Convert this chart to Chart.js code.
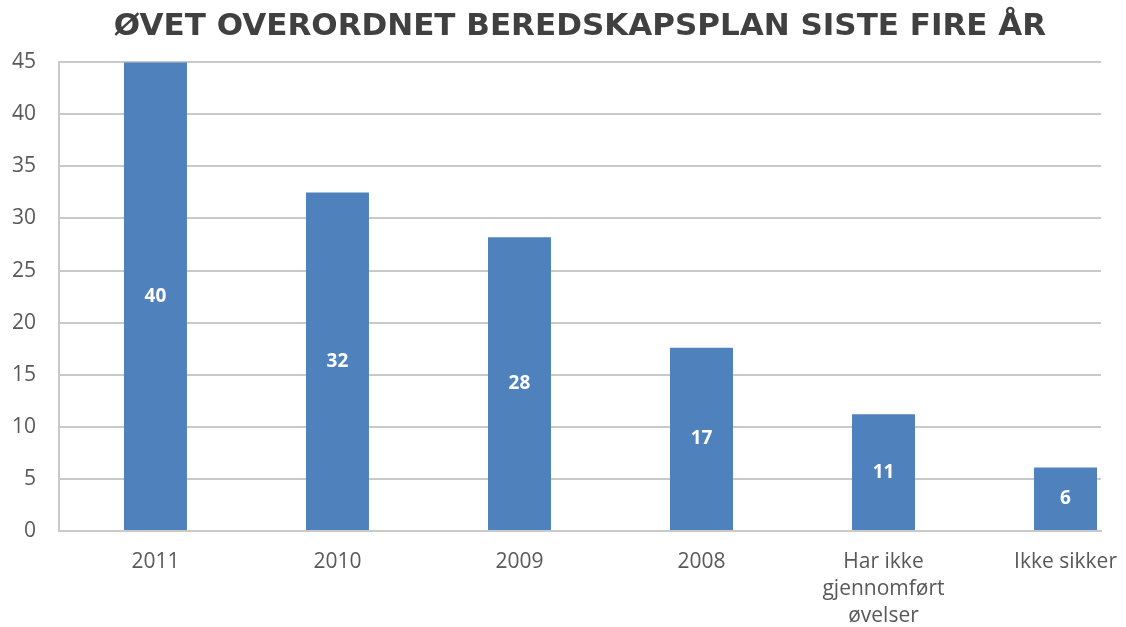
<!DOCTYPE html>
<html>
<head>
<meta charset="utf-8">
<script src="https://cdn.jsdelivr.net/npm/chart.js@4"></script>
<style>
  html, body { margin: 0; padding: 0; background: #fff; overflow: hidden; }
  #wrap { width: 1126px; height: 627px; }
</style>
</head>
<body>
<div id="wrap"><canvas id="myChart"></canvas></div>
<script>
// data
const categories = ['2011', '2010', '2009', '2008', ['Har ikke', 'gjennomført', 'øvelser'], 'Ikke sikker'];
const barValues = [45, 32.5, 28.2, 17.6, 11.2, 6.1];   // bar heights as drawn
const labelValues = [40, 32, 28, 17, 11, 6];           // numbers printed in the bars
const yTicks = [0, 5, 10, 15, 20, 25, 30, 35, 40, 45];

const gridColor = '#c9c9c9';
const textColor = '#595959';

// labels in the middle of each bar
const barLabels = {
    id: 'barLabels',
    afterDatasetsDraw(chart) {
        const c = chart.ctx;
        const meta = chart.getDatasetMeta(0);
        c.save();
        c.fillStyle = '#ffffff';
        c.font = 'bold 19px "Open Sans"';
        c.textAlign = 'center';
        c.textBaseline = 'middle';
        meta.data.forEach((bar, i) => {
            c.fillText(String(labelValues[i]), bar.x, (bar.y + bar.base) / 2);
        });
        c.restore();
    }
};

const ctx = document.getElementById('myChart').getContext('2d');
const myChart = new Chart(ctx, {
    type: 'bar',
    data: {
        datasets: [{
            data: barValues.map((v, i) => ({ x: i, y: v })),
            backgroundColor: '#4F81BD',
            categoryPercentage: 1,
            barPercentage: 0.346
        }]
    },
    options: {
        responsive: true,
        maintainAspectRatio: false,
        animation: false,
        layout: { padding: { left: 0, right: 25, top: 0, bottom: 0 } },
        plugins: {
            legend: { display: false },
            tooltip: { enabled: false },
            title: {
                display: true,
                text: 'ØVET OVERORDNET BEREDSKAPSPLAN SISTE FIRE ÅR',
                color: '#404040',
                fullSize: false,
                font: { family: '"DejaVu Sans"', size: 31, weight: 'bold' },
                padding: { top: 8, bottom: 17 }
            }
        },
        scales: {
            x: {
                type: 'linear',
                offset: false,
                min: -0.53,
                max: 5.195,
                grid: { display: false, drawTicks: false },
                border: { display: true, color: gridColor, width: 2 },
                afterBuildTicks: s => { s.ticks = categories.map((c, i) => ({ value: i })); },
                afterFit: s => { s.height = 96; s.paddingLeft = 0; s.paddingRight = 0; },
                ticks: {
                    color: textColor,
                    padding: 17,
                    autoSkip: false,
                    maxRotation: 0,
                    font: { family: '"Open Sans"', size: 21, lineHeight: 1.3 },
                    callback: v => categories[v]
                }
            },
            y: {
                min: 0,
                max: 45,
                afterBuildTicks: s => { s.ticks = yTicks.map(v => ({ value: v })); },
                afterFit: s => { s.width = 59; },
                grid: { color: gridColor, lineWidth: 2, drawTicks: false },
                border: { display: true, color: gridColor, width: 2 },
                ticks: {
                    color: textColor,
                    padding: 23,
                    font: { family: '"Open Sans"', size: 21 }
                }
            }
        }
    },
    plugins: [barLabels]
});
</script>
</body>
</html>
